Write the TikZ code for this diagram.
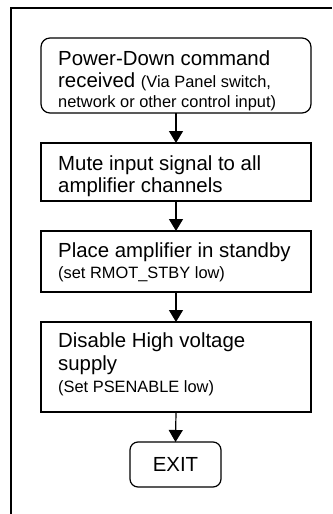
\documentclass[tikz,border=0pt]{standalone}
\usepackage{fontspec}
\setmainfont{Liberation Sans}
\usetikzlibrary{arrows.meta}
\begin{document}
\begin{tikzpicture}[x=1pt,y=-1pt,
  box/.style={draw=black, line width=1.2pt, inner sep=0pt, outer sep=0pt, minimum width=270pt},
  roundbox/.style={box, rounded corners=9pt},
  maintext/.style={inner sep=0pt, anchor=base west, font=\fontsize{20.4}{24}\selectfont},
  smalltext/.style={inner sep=0pt, anchor=base west, font=\fontsize{16.4}{20}\selectfont},
  arr/.style={line width=1.2pt, -{Triangle[width=14pt,length=12pt]}},
  frameline/.style={line width=1.5pt}
]
\useasboundingbox (0,0) rectangle (332,514);
% outer frame
\coordinate (fbl) at (11,514);
\coordinate (ftl) at (11,8);
\coordinate (ftr) at (332,8);
\draw[frameline] (fbl) -- (ftl) -- (ftr);

% boxes
\node[roundbox, minimum height=75pt] (b1) at (176,75.5) {};
\node[box, minimum height=58pt] (b2) at (176,172) {};
\node[box, minimum height=61pt] (b3) at (176,261.5) {};
\node[box, minimum height=90pt] (b4) at (176,367) {};
\node[roundbox, minimum width=91pt, minimum height=45pt, rounded corners=8pt,
      font=\fontsize{20.4}{24}\selectfont] (b5) at (175.5,464.5) {EXIT};

% texts
\node[maintext] (t1a) at (58,65) {Power-Down command};
\node[maintext] (t1b) at (58,87) {received {\fontsize{16.4}{20}\selectfont (Via Panel switch,}};
\node[smalltext] (t1c) at (58,107) {network or other control input)};

\node[maintext] (t2a) at (58,170) {Mute input signal to all};
\node[maintext] (t2b) at (58,192) {amplifier channels};

\node[maintext] (t3a) at (58,257) {Place amplifier in standby};
\node[smalltext] (t3b) at (58,278) {(set RMOT\_STBY low)};

\node[maintext] (t4a) at (58,347) {Disable High voltage};
\node[maintext] (t4b) at (58,370) {supply};
\node[smalltext] (t4c) at (58,392) {(Set PSENABLE low)};

% arrows
\draw[arr] (b1.south) -- (b2.north);
\draw[arr] (b2.south) -- (b3.north);
\draw[arr] (b3.south) -- (b4.north);
\draw[arr] (b4.south) -- (b5.north);
\end{tikzpicture}
\end{document}
